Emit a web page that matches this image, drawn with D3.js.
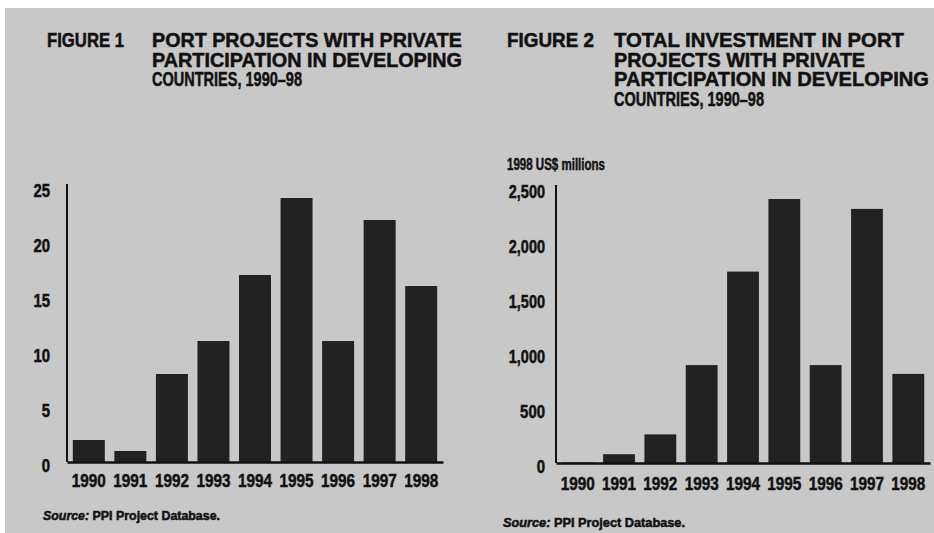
<!DOCTYPE html>
<html>
<head>
<meta charset="utf-8">
<script src="https://cdn.jsdelivr.net/npm/d3@7"></script>
<style>
  body { margin: 0; background: #fff; }
  svg { display: block; }
  text { font-family: "Liberation Sans", Arial, sans-serif; font-weight: bold; fill: #111; stroke: #111; stroke-width: 0.5px; }
</style>
</head>
<body>
<div id="chart"></div>
<script>
const years = ["1990", "1991", "1992", "1993", "1994", "1995", "1996", "1997", "1998"];
const projects = [2, 1, 8, 11, 17, 24, 11, 22, 16];
const investment = [5, 80, 260, 890, 1740, 2400, 890, 2310, 810];
const projectTicks = [0, 5, 10, 15, 20, 25];
const investmentTicks = [0, 500, 1000, 1500, 2000, 2500];

const title1 = ["PORT PROJECTS WITH PRIVATE", "PARTICIPATION IN DEVELOPING", "COUNTRIES, 1990–98"];
const title2 = ["TOTAL INVESTMENT IN PORT", "PROJECTS WITH PRIVATE", "PARTICIPATION IN DEVELOPING", "COUNTRIES, 1990–98"];

const width = 934;
const height = 533;

const svg = d3.select("#chart")
    .append("svg")
    .attr("width", width)
    .attr("height", height);

// grey halftone page
svg.append("rect")
    .attr("x", 5).attr("y", 8)
    .attr("width", width - 5).attr("height", height - 8)
    .attr("fill", "#c8c8c8");

// the print face is condensed, so squeeze glyphs to the measured width
function squeeze(sel, w) {
    sel.attr("textLength", w).attr("lengthAdjust", "spacingAndGlyphs");
}

function drawChart(opt) {
    const g = svg.append("g");

    // heading
    g.append("text")
        .attr("x", opt.figX).attr("y", 47)
        .attr("font-size", 19.5)
        .text(opt.figLabel)
        .call(squeeze, opt.figW);

    opt.title.forEach((line, i) => {
        g.append("text")
            .attr("x", opt.titleX)
            .attr("y", 47 + i * 19.5)
            .attr("font-size", 19.5)
            .text(line)
            .call(squeeze, opt.titleW[i]);
    });

    if (opt.unit) {
        g.append("text")
            .attr("x", opt.figX).attr("y", 170)
            .attr("font-size", 17)
            .text(opt.unit)
            .call(squeeze, 98);
    }

    const x = d3.scaleBand()
        .domain(years)
        .range([opt.x0, opt.x1])
        .paddingInner(0.23)
        .paddingOuter(0.14);

    const y = d3.scaleLinear()
        .domain([0, d3.max(opt.ticks)])
        .range([opt.y0, opt.y0 - 275]);

    g.selectAll("rect.bar")
        .data(opt.values)
        .enter()
        .append("rect")
        .attr("class", "bar")
        .attr("x", (d, i) => x(years[i]))
        .attr("y", d => y(d))
        .attr("width", x.bandwidth())
        .attr("height", d => y(0) - y(d))
        .attr("fill", "#222");

    const fmt = d3.format(",");
    const yAxis = g.append("g")
        .attr("transform", `translate(${opt.x0},0)`)
        .call(d3.axisLeft(y).tickValues(opt.ticks).tickSize(0).tickPadding(opt.tickPad).tickFormat(fmt));
    yAxis.select(".domain").attr("stroke", "#111").attr("stroke-width", 2).attr("d", `M0,${y(0)}V${y(d3.max(opt.ticks)) - 3}`);
    yAxis.selectAll("text")
        .attr("font-size", 17.5)
        .attr("fill", "#111")
        .attr("font-family", null)
        .attr("dy", "0.55em")
        .each(function(d) {
            const s = fmt(d);
            d3.select(this).call(squeeze, s.replace(",", "").length * 8.3 + (s.includes(",") ? 3 : 0));
        });

    const xAxis = g.append("g")
        .attr("transform", `translate(0,${opt.y0})`)
        .call(d3.axisBottom(x).tickSize(0).tickPadding(opt.xPad));
    xAxis.select(".domain").attr("stroke", "#111").attr("stroke-width", 2.5);
    xAxis.selectAll("text")
        .attr("font-size", 18)
        .attr("fill", "#111")
        .attr("font-family", null)
        .call(squeeze, 34);

    // source note
    const src = g.append("text")
        .attr("x", opt.figX - 4).attr("y", opt.srcY)
        .attr("font-size", 12.5)
        .attr("stroke-width", 0.3);
    src.append("tspan").attr("font-style", "italic").text("Source:");
    src.append("tspan").text(" PPI Project Database.");
    src.call(squeeze, opt.srcW);
}

drawChart({
    figLabel: "FIGURE 1", figX: 47, figW: 77, titleX: 152, title: title1, titleW: [310, 310, 150],
    values: projects, ticks: projectTicks,
    x0: 67, x1: 443, y0: 462, tickPad: 17, xPad: 12, srcY: 520, srcW: 177
});

drawChart({
    figLabel: "FIGURE 2", figX: 507, figW: 87, titleX: 614, title: title2, titleW: [290, 251, 315, 150], unit: "1998 US$ millions",
    values: investment, ticks: investmentTicks,
    x0: 556, x1: 930, y0: 463, tickPad: 11, xPad: 14, srcY: 527, srcW: 182
});
</script>
</body>
</html>
